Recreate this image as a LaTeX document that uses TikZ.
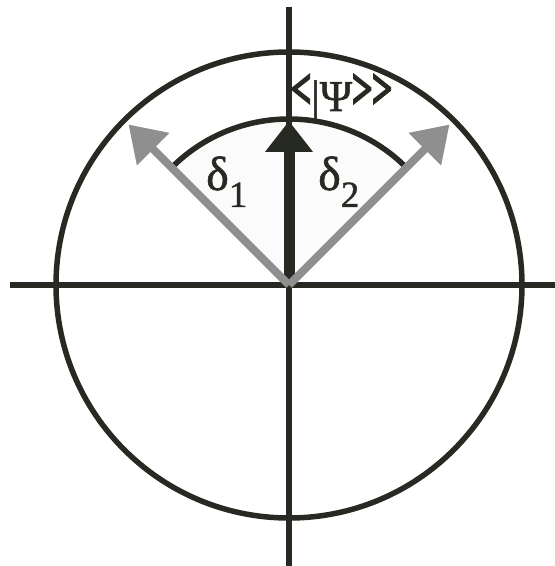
\documentclass[tikz,border=0pt]{standalone}
\usepackage{fontspec}
\setmainfont{Liberation Serif}
\newfontfamily\lblfont{Liberation Serif}[FakeBold=1.2]
\newfontfamily\chevfont{Liberation Serif}[FakeBold=5]
\usetikzlibrary{arrows.meta,calc}
\definecolor{ink}{RGB}{38,42,34}
\definecolor{arrowgray}{RGB}{143,143,143}
\newcommand{\chev}[1]{\raisebox{3pt}{\scalebox{0.8}[1.3]{\chevfont #1}}}
\begin{document}
\begin{tikzpicture}[x=1pt,y=1pt,
  axisline/.style={draw=ink,line width=6.5pt},
  ring/.style={draw=ink,line width=5.5pt},
  grayarrow/.style={draw=arrowgray,line width=8pt,-{Triangle[length=35pt,width=44pt]}},
  blackarrow/.style={draw=ink,line width=11pt,-{Triangle[length=31pt,width=46pt]}},
  lbl/.style={inner sep=0pt,text=ink,font=\lblfont}]
\useasboundingbox (0,0) rectangle (555,566);
\coordinate (O) at (289,281);
\coordinate (top) at (289,559);
\coordinate (bottom) at (289,0);
\coordinate (left) at (10,281);
\coordinate (right) at (555,281);
\coordinate (tipL) at ($(O)+(135:227)$);
\coordinate (tipR) at ($(O)+(45:227)$);
\coordinate (tipU) at ($(O)+(90:164)$);
% sector shading
\fill[black!1.5] (O) -- ++(45:166) arc[start angle=45,end angle=135,radius=166] -- cycle;
% outer circle
\draw[ring] (O) circle[radius=233];
% axes
\draw[axisline] (top) -- (bottom);
\draw[axisline] (left) -- (right);
% inner arc
\draw[ring] (O) ++(45:166) arc[start angle=45,end angle=135,radius=166];
% black state arrow
\draw[blackarrow] (O) -- (tipU);
% gray arrows
\draw[grayarrow] (O) -- (tipL);
\draw[grayarrow] (O) -- (tipR);
% labels
\node[lbl,anchor=base west] (d1) at (206,376) {\fontsize{48}{48}\selectfont δ\raisebox{-17pt}{\fontsize{37}{37}\selectfont 1}};
\node[lbl,anchor=base west] (d2) at (318,376) {\fontsize{48}{48}\selectfont δ\raisebox{-17pt}{\fontsize{37}{37}\selectfont 2}};
\node[lbl,anchor=base west] (psi) at (291,455) {\fontsize{44}{44}\selectfont\chev{<}|Ψ\chev{>}\chev{>}};
\end{tikzpicture}
\end{document}
